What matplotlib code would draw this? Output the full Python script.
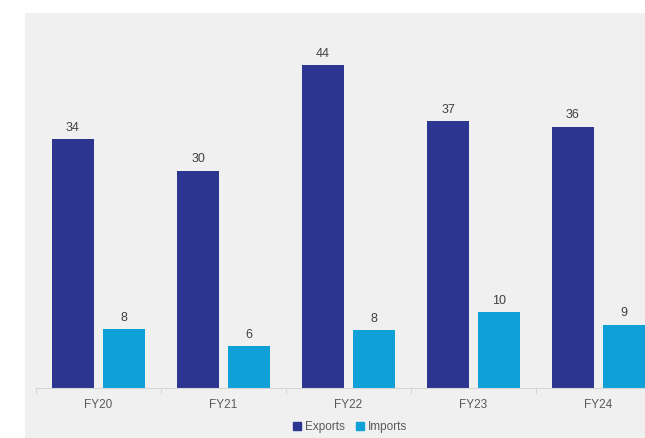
import numpy as np
import matplotlib
matplotlib.use("Agg")
import matplotlib.pyplot as plt
from matplotlib.patches import Rectangle, Patch

plt.rcParams["font.family"] = ["Liberation Sans", "DejaVu Sans"]

years = ["FY20", "FY21", "FY22", "FY23", "FY24"]
exports = [33.9, 29.6, 44.0, 36.4, 35.6]
imports = [8.0, 5.7, 7.9, 10.3, 8.6]
# labels as printed on the chart
export_labels = ["34", "30", "44", "37", "36"]
import_labels = ["8", "6", "8", "10", "9"]

exp_color = "#2c3590"
imp_color = "#0fa0d7"
txt = "#404040"

fig = plt.figure(figsize=(6.45, 4.38), dpi=100)
fig.patch.set_facecolor("white")
fig.patches.append(Rectangle((25 / 645, 0), 1, 1 - 13 / 438, transform=fig.transFigure,
                             facecolor="#f0f0f0", edgecolor="none", zorder=-10))

ax = fig.add_axes([36 / 645, 50 / 438, 625 / 645, 352 / 438])
ax.patch.set_alpha(0)

x = np.arange(len(years))
w = 0.33
off = 0.204
b1 = ax.bar(x - off, exports, w, color=exp_color, label="Exports")
b2 = ax.bar(x + off, imports, w, color=imp_color, label="Imports")

for bars, vals, labs in [(b1, exports, export_labels), (b2, imports, import_labels)]:
    for b, v, lab in zip(bars, vals, labs):
        ax.annotate(lab, (b.get_x() + b.get_width() / 2, v),
                    xytext=(0, 4), textcoords="offset points",
                    ha="center", va="bottom", fontsize=9, color=txt)

ax.set_xlim(-0.5, 4.5)
ax.set_ylim(0, 48)
ax.set_xticks(x)
ax.set_xticklabels(years, fontsize=8.5, color="#595959")
ax.set_xticks(np.arange(-0.5, 5, 1), minor=True)
ax.tick_params(axis="x", which="major", length=0, pad=8)
ax.tick_params(axis="x", which="minor", length=4, color="#d0d0d0")
ax.set_yticks([])
for s in ["top", "right", "left"]:
    ax.spines[s].set_visible(False)
ax.spines["bottom"].set_color("#d6d6d6")

fig.legend(handles=[Patch(color=exp_color, label="Exports"), Patch(color=imp_color, label="Imports")],
           loc="center", bbox_to_anchor=(350 / 645, 1 - 427 / 438), ncol=2, frameon=False,
           fontsize=8.5, handlelength=0.7, handleheight=0.7, handletextpad=0.3,
           columnspacing=1.0, labelcolor="#595959")

fig.savefig("out.png", dpi=100)
